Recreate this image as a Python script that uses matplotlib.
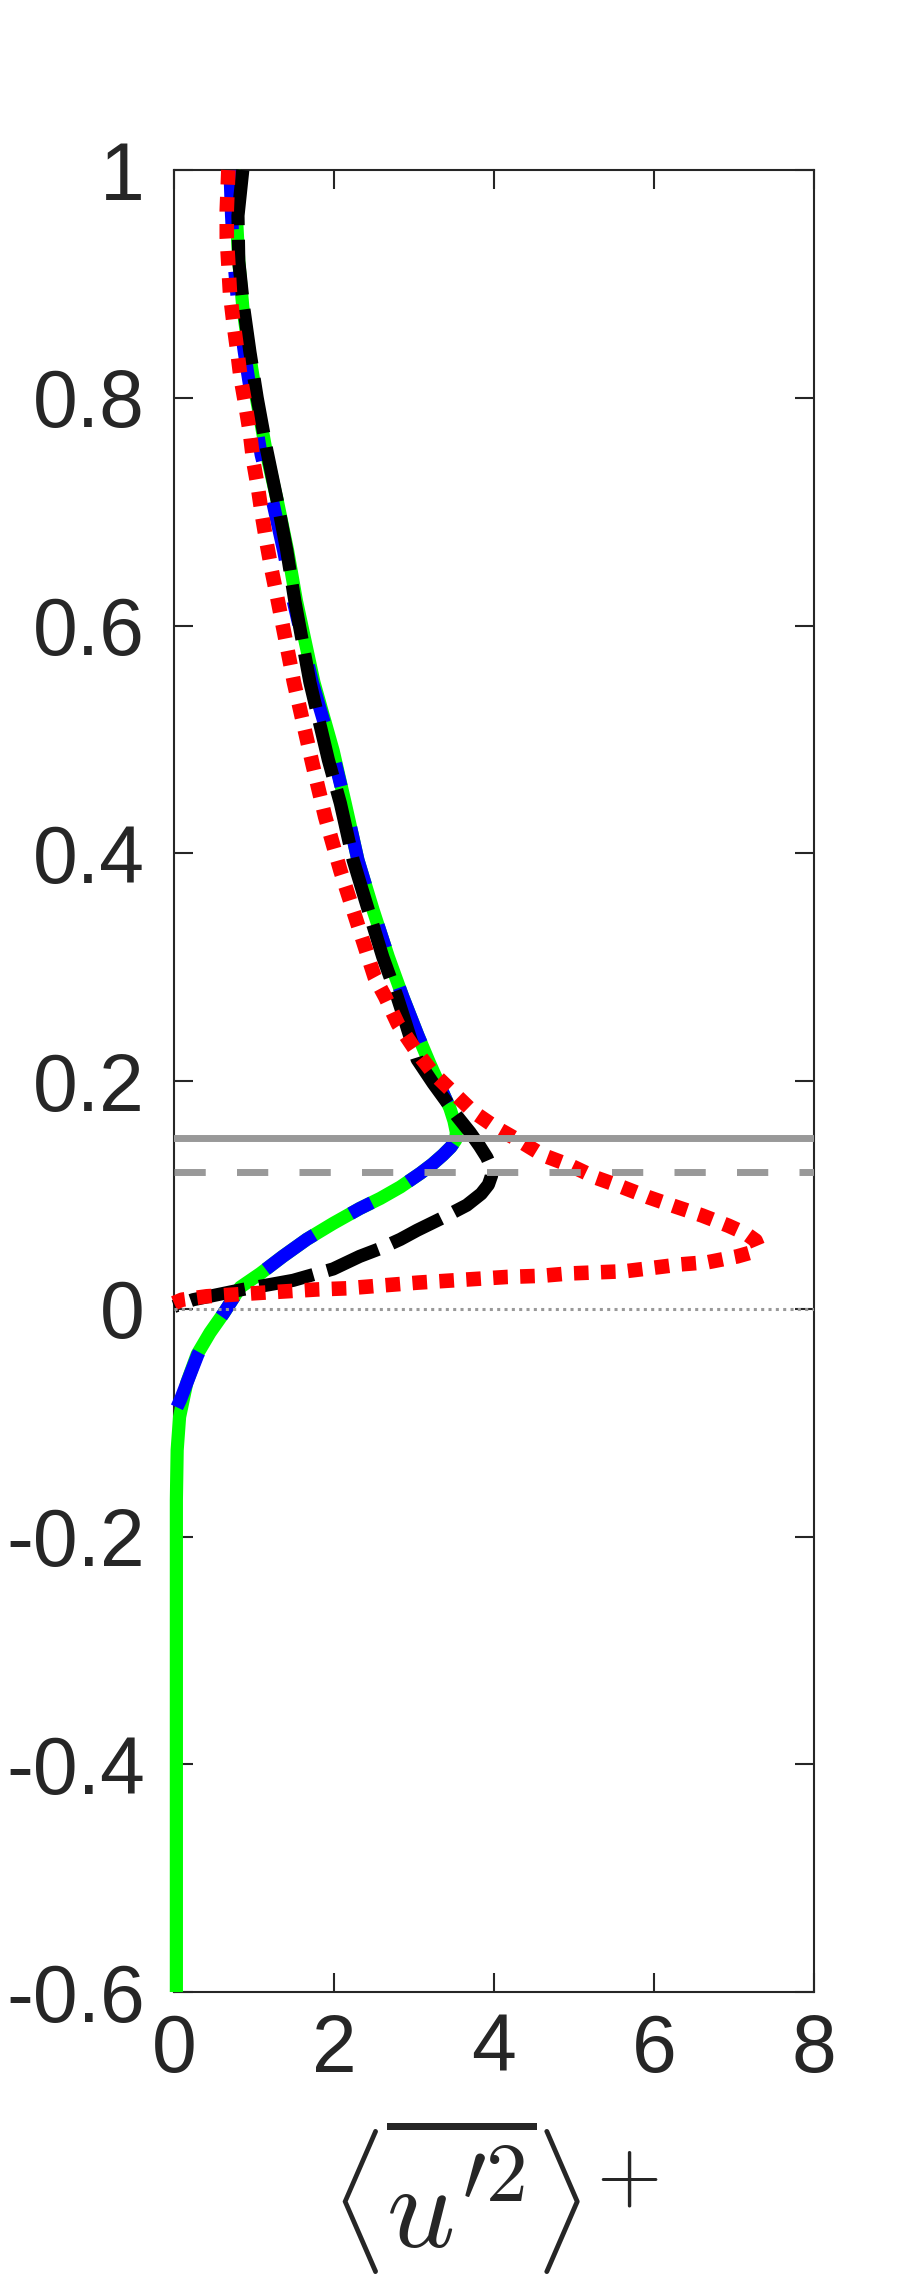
import numpy as np
import matplotlib.pyplot as plt

# profiles: (x, y) pairs, x = <u'^2>^+, y = wall-normal coord
green_x = [0.75, 0.78, 0.81, 0.86, 0.94, 1.03, 1.16, 1.29, 1.42, 1.53, 1.75, 1.99, 2.14, 2.30, 2.49,
           2.68, 2.86, 3.05, 3.20, 3.36, 3.45, 3.50, 3.53, 3.52, 3.46, 3.36, 3.23, 3.08, 2.83, 2.58, 2.32,
           1.99, 1.66, 1.36, 1.08, 0.83, 0.62, 0.45, 0.29, 0.16, 0.07, 0.04, 0.03, 0.03, 0.03, 0.03]
green_y = [1.0, 0.96, 0.92, 0.88, 0.84, 0.80, 0.75, 0.71, 0.666, 0.622, 0.55, 0.49, 0.444, 0.394, 0.35,
           0.309, 0.274, 0.24, 0.215, 0.19, 0.176, 0.165, 0.155, 0.148, 0.142, 0.135, 0.127, 0.119, 0.107, 0.097, 0.088,
           0.075, 0.061, 0.046, 0.031, 0.019, -0.004, -0.021, -0.040, -0.065, -0.095, -0.124, -0.168, -0.25, -0.4, -0.6]

blue_x = [0.70, 0.72, 0.75, 0.80, 0.88, 0.97, 1.09, 1.23, 1.37, 1.49, 1.73, 1.98, 2.14, 2.30, 2.49,
          2.68, 2.86, 3.05, 3.20, 3.36, 3.45, 3.50, 3.53, 3.52, 3.46, 3.36, 3.23, 3.08, 2.83, 2.58, 2.32,
          1.99, 1.66, 1.36, 1.08, 0.83, 0.62, 0.45, 0.30, 0.20, 0.08, 0.0]
blue_y = [1.0, 0.96, 0.92, 0.88, 0.84, 0.80, 0.75, 0.71, 0.666, 0.622, 0.55, 0.49, 0.444, 0.394, 0.35,
          0.309, 0.274, 0.24, 0.215, 0.19, 0.176, 0.165, 0.155, 0.148, 0.142, 0.135, 0.127, 0.119, 0.107, 0.097, 0.088,
          0.075, 0.061, 0.046, 0.031, 0.019, -0.004, -0.021, -0.040, -0.058, -0.080, -0.092]

black_x = [0.86, 0.80, 0.81, 0.87, 0.95, 1.04, 1.16, 1.29, 1.41, 1.51, 1.70, 1.93, 2.08, 2.24, 2.43,
           2.61, 2.79, 2.90, 3.04, 3.24, 3.54, 3.70, 3.82, 3.91, 3.96, 3.97, 3.93, 3.84, 3.66, 3.36, 3.04,
           2.83, 2.58, 2.32, 1.99, 1.49, 0.86, 0.24, 0.0]
black_y = [1.0, 0.96, 0.92, 0.88, 0.84, 0.80, 0.754, 0.71, 0.666, 0.622, 0.55, 0.482, 0.444, 0.394, 0.35,
           0.309, 0.274, 0.25, 0.219, 0.198, 0.169, 0.155, 0.143, 0.133, 0.125, 0.117, 0.109, 0.101, 0.091, 0.080, 0.069,
           0.061, 0.053, 0.046, 0.035, 0.025, 0.017, 0.008, 0.002]

red_x = [0.68, 0.66, 0.66, 0.68, 0.70, 0.74, 0.79, 0.83, 0.89, 0.95, 0.99, 1.05, 1.10, 1.16, 1.22,
         1.29, 1.50, 1.73, 1.89, 2.08, 2.29, 2.51, 2.64, 2.80, 3.04, 3.24, 3.49, 3.74, 4.03, 4.33,
         4.61, 4.95, 5.28, 5.60, 5.93, 6.26, 6.60, 6.93, 7.15, 7.27, 7.30, 7.24, 7.04, 6.68, 6.33, 5.99,
         5.64, 5.28, 4.93, 4.60, 4.17, 3.05, 2.16, 1.79, 1.08, 0.41, 0.10, 0.0]
red_y = [1.0, 0.965, 0.941, 0.917, 0.892, 0.868, 0.842, 0.819, 0.795, 0.769, 0.745, 0.721, 0.697, 0.672, 0.649,
         0.625, 0.55, 0.479, 0.432, 0.385, 0.339, 0.291, 0.274, 0.25, 0.225, 0.207, 0.19, 0.173, 0.159, 0.147,
         0.135, 0.126, 0.115, 0.107, 0.098, 0.090, 0.082, 0.073, 0.066, 0.060, 0.055, 0.050, 0.046, 0.041, 0.039, 0.036,
         0.033, 0.032, 0.031, 0.029, 0.028, 0.023, 0.018, 0.017, 0.014, 0.011, 0.008, 0.005]

y_solid = 0.15
y_dashed = 0.12

xticks = [0, 2, 4, 6, 8]
yticks = [-0.6, -0.4, -0.2, 0, 0.2, 0.4, 0.6, 0.8, 1]
ytick_labels = ['-0.6', '-0.4', '-0.2', '0', '0.2', '0.4', '0.6', '0.8', '1']

plt.rcParams['font.family'] = ['Liberation Sans', 'DejaVu Sans']
plt.rcParams['mathtext.fontset'] = 'cm'

fig = plt.figure(figsize=(9, 22.8), dpi=100)
ax = fig.add_axes([0.1933, 0.1263, 0.7111, 0.7991])

lw = 9.5
ax.plot(green_x, green_y, color='#00ff00', lw=lw, solid_capstyle='butt', zorder=2, clip_on=False)
ax.plot(blue_x, blue_y, color='#0000ff', lw=lw, dashes=(4.5, 3.2, 1.8, 3.2), zorder=3, clip_on=False)
ax.plot(black_x, black_y, color='black', lw=lw, dashes=(4.2, 1.1), zorder=4, clip_on=False)
ax.plot(red_x, red_y, color='#ff0000', lw=10.5, dashes=(1.0, 0.85), zorder=5, clip_on=False)

gray = '#999999'
ax.axhline(y_solid, color=gray, lw=5, zorder=6)
ax.axhline(y_dashed, color=gray, lw=5, dashes=(4.5, 4.5), zorder=6)
ax.axhline(0, color=gray, lw=2.2, dashes=(1, 1.4), zorder=6)

ax.set_xlim(0, 8)
ax.set_ylim(-0.6, 1)
ax.set_xticks(xticks)
ax.set_xticklabels([str(t) for t in xticks])
ax.set_yticks(yticks)
ax.set_yticklabels(ytick_labels)

dark = '#262626'
for s in ax.spines.values():
    s.set_color(dark)
    s.set_linewidth(1.5)
    s.set_zorder(1)
ax.tick_params(direction='in', length=13.5, width=1.5, color=dark, labelcolor=dark,
               labelsize=58, top=True, right=True)
ax.tick_params(axis='y', pad=21)
ax.tick_params(axis='x', pad=15)

ax.set_xlabel(r'$\langle\overline{u^{\prime 2}}\rangle^{+}$', fontsize=86, color=dark, labelpad=18)

fig.savefig('out.png', dpi=100)
